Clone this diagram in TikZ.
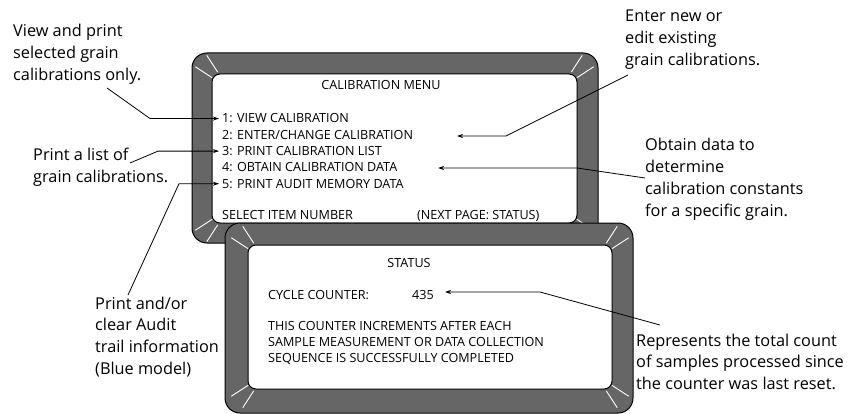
\documentclass[tikz,border=0pt]{standalone}
\usepackage{fontspec}
\setmainfont{Open Sans}
\usetikzlibrary{arrows.meta, calc}

\definecolor{bezel}{HTML}{666666}

\begin{document}
\begin{tikzpicture}[x=1pt, y=-1pt,
    outerframe/.style={draw=black, fill=bezel, line width=1pt, rounded corners=15pt},
    innerframe/.style={draw=black, fill=white, line width=1pt, rounded corners=8pt},
    glint/.style={draw=white, line width=0.9pt},
    lcdtext/.style={font=\fontsize{12.6}{15.8}\selectfont, inner sep=0pt, anchor=base west, align=left},
    itemtext/.style={lcdtext, inner xsep=3pt},
    note/.style={font=\fontsize{16.3}{21.8}\selectfont, inner sep=0pt, anchor=base west, align=left},
    callout/.style={draw=black, line width=0.8pt, -{Stealth[length=6pt,width=4pt]}}]
    \useasboundingbox (0,0) rectangle (853,414);

    % calibration menu screen
    \draw[outerframe] (192,53) rectangle (598,243);
    \draw[innerframe] (212,74) rectangle (577,223);
    \foreach \cx/\cy/\a in {228/88/213, 228/88/237, 561/88/327, 561/88/303,
                            228/209/147, 228/209/123, 561/209/33, 561/209/57}
        \draw[glint, shift={(\cx,\cy)}] (\a:19) -- (\a:39);

    \node[lcdtext, anchor=base] (menutitle) at (381,89.5) {CALIBRATION MENU};
    \node[itemtext] (item1) at (219,123.0) {1: VIEW CALIBRATION};
    \node[itemtext] (item2) at (219,139.3) {2: ENTER/CHANGE CALIBRATION};
    \node[itemtext] (item3) at (219,155.6) {3: PRINT CALIBRATION LIST};
    \node[itemtext] (item4) at (219,171.9) {4: OBTAIN CALIBRATION DATA};
    \node[itemtext] (item5) at (219,188.2) {5: PRINT AUDIT MEMORY DATA};
    \node[lcdtext] (select) at (222,219.5) {SELECT ITEM NUMBER};
    \node[lcdtext] (nextpage) at (417,219.5) {(NEXT PAGE: STATUS)};

    % status screen
    \draw[outerframe] (225,223) rectangle (633,413);
    \draw[innerframe] (248,245) rectangle (612,389);
    \foreach \cx/\cy/\a in {264/259/213, 264/259/237, 596/259/327, 596/259/303,
                            264/375/147, 264/375/123, 596/375/33, 596/375/57}
        \draw[glint, shift={(\cx,\cy)}] (\a:19) -- (\a:39);

    \node[lcdtext, anchor=base] (statustitle) at (409,267.5) {STATUS};
    \node[lcdtext] (cycle) at (268,299.5) {CYCLE COUNTER:};
    \node[lcdtext] (count) at (412,299.5) {435};
    % multi-line nodes: base sits on the last line
    \node[lcdtext] (explain) at (268,362.5) {THIS COUNTER INCREMENTS AFTER EACH\\
        SAMPLE MEASUREMENT OR DATA COLLECTION\\ SEQUENCE IS SUCCESSFULLY COMPLETED};

    % notes
    \node[note] (viewnote) at (13,80.6) {View and print\\ selected grain\\ calibrations only.};
    \node[note] (listnote) at (33,182.8) {Print a list of\\ grain calibrations.};
    \node[note] (auditnote) at (95,374.4) {Print and/or\\ clear Audit\\ trail information\\ (Blue model)};
    \node[note] (enternote) at (625,65.6) {Enter new or\\ edit existing\\ grain calibrations.};
    \node[note] (obtainnote) at (645,216.4) {Obtain data to\\ determine\\ calibration constants\\ for a specific grain.};
    \node[note] (resetnote) at (636,389.6) {Represents the total count\\ of samples processed since\\ the counter was last reset.};

    \coordinate (viewtail) at (107,88);
    \coordinate (listtail) at (130,163);
    \coordinate (audittail) at (128,295);
    \coordinate (entertail) at (628,75);
    \coordinate (enterhead) at (457,136);
    \coordinate (obtaintail) at (645,178);
    \coordinate (obtainhead) at (438,168);
    \coordinate (resettail) at (660,325);
    \coordinate (resethead) at (445,292);

    \draw[callout] (viewtail) -- (150,0 |- item1.west) -- (item1.west);
    \draw[callout] (listtail) -- (158,0 |- item3.west) -- (item3.west);
    \draw[callout] (audittail) -- (179,0 |- item5.west) -- (item5.west);
    \draw[callout] (entertail) -- (506,136) -- (enterhead);
    \draw[callout] (obtaintail) -- (577,168) -- (obtainhead);
    \draw[callout] (resettail) -- (540,292) -- (resethead);
\end{tikzpicture}
\end{document}
